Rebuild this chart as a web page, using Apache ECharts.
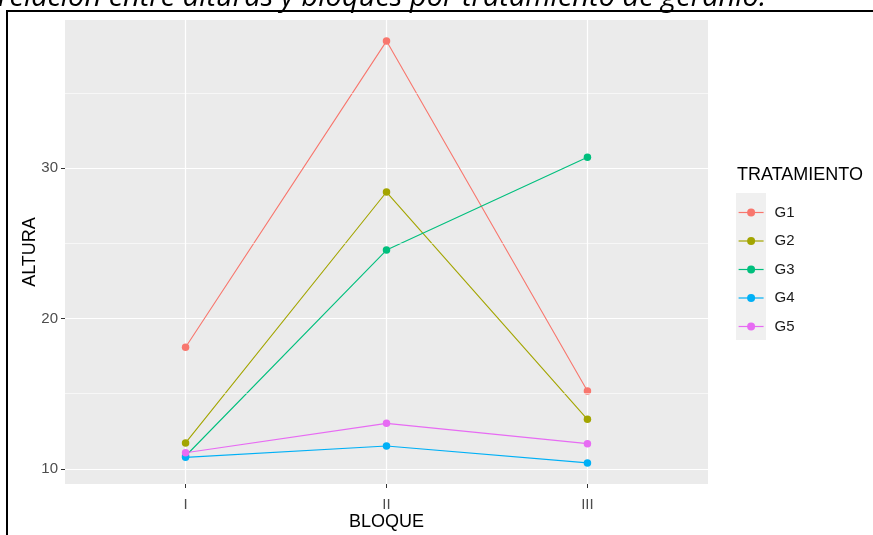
<!DOCTYPE html>
<html>
<head>
<meta charset="utf-8">
<script src="https://cdn.jsdelivr.net/npm/echarts@6/dist/echarts.min.js"></script>
<style>
  html, body { margin: 0; padding: 0; background: #ffffff; }
  #chart { width: 873px; height: 535px; }
</style>
</head>
<body>
<div id="chart"></div>
<script>
// Block labels (discrete x positions 1, 2, 3)
const bloques = ['I', 'II', 'III'];
const bloquePos = [1, 2, 3];

// Height per treatment, one value per block
const tratamientos = ['G1', 'G2', 'G3', 'G4', 'G5'];
const alturaG1 = [18.08, 38.45, 15.17];
const alturaG2 = [11.72, 28.41, 13.29];
const alturaG3 = [10.85, 24.55, 30.73];
const alturaG4 = [10.76, 11.51, 10.39];
const alturaG5 = [11.07, 13.02, 11.67];

// Y tick labels and minor grid positions
const yTicks = [10, 20, 30];
const yMinor = [15, 25, 35];

const colores = ['#F8766D', '#A3A500', '#00BF7D', '#00B0F6', '#E76BF3'];
const valores = [alturaG1, alturaG2, alturaG3, alturaG4, alturaG5];

// ggplot-style expansion of the continuous range (5% each side)
const all = valores.flat();
const yLo = Math.min(...all), yHi = Math.max(...all);
const yPad = (yHi - yLo) * 0.05;
// discrete axis expansion of 0.6 on each side
const xMin = bloquePos[0] - 0.6, xMax = bloquePos[bloquePos.length - 1] + 0.6;

const FONT = '"Liberation Sans", Arial, sans-serif';

const series = tratamientos.map((name, i) => ({
  name: name,
  type: 'line',
  data: bloquePos.map((x, j) => [x, valores[i][j]]),
  symbol: 'circle',
  symbolSize: 7.5,
  itemStyle: { color: colores[i] },
  lineStyle: { color: colores[i], width: 1.1 },
  emphasis: { disabled: true },
  animation: false,
  z: 3
}));

// minor horizontal grid lines
series.push({
  type: 'line',
  data: [],
  silent: true,
  markLine: {
    silent: true,
    symbol: 'none',
    label: { show: false },
    lineStyle: { color: '#ffffff', width: 0.6, type: 'solid' },
    data: yMinor.map(v => ({ yAxis: v }))
  },
  z: 1
});

const chart = echarts.init(document.getElementById('chart'), null, { renderer: 'canvas' });
chart.setOption({
  animation: false,
  backgroundColor: '#ffffff',
  grid: {
    left: 65, top: 20, width: 643, height: 464,
    outerBoundsMode: 'none',
    containLabel: false,
    show: true, backgroundColor: '#EBEBEB', borderWidth: 0
  },
  xAxis: {
    type: 'value',
    min: xMin, max: xMax,
    name: 'BLOQUE',
    nameLocation: 'middle',
    nameGap: 29,
    nameMoveOverlap: false,
    nameTextStyle: { fontFamily: FONT, fontSize: 18, color: '#000000' },
    axisLine: { show: false },
    axisTick: { show: true, customValues: bloquePos, length: 4, lineStyle: { color: '#333333', width: 1 } },
    axisLabel: {
      customValues: bloquePos,
      formatter: v => bloques[bloquePos.indexOf(Math.round(v))] || '',
      fontFamily: FONT, fontSize: 15, color: '#4D4D4D', margin: 13
    },
    splitLine: { show: true, lineStyle: { color: '#ffffff', width: 1.2 } }
  },
  yAxis: {
    type: 'value',
    min: yLo - yPad, max: yHi + yPad,
    name: 'ALTURA',
    nameLocation: 'middle',
    nameRotate: 90,
    nameGap: 26,
    nameMoveOverlap: false,
    nameTextStyle: { fontFamily: FONT, fontSize: 18, color: '#000000' },
    axisLine: { show: false },
    axisTick: { show: true, customValues: yTicks, length: 4, lineStyle: { color: '#333333', width: 1 } },
    axisLabel: {
      customValues: yTicks,
      fontFamily: FONT, fontSize: 15, color: '#4D4D4D', margin: 7
    },
    splitLine: { show: true, lineStyle: { color: '#ffffff', width: 1.2 } }
  },
  legend: {
    data: tratamientos,
    orient: 'vertical',
    left: 738,
    top: 205,
    padding: 0,
    itemWidth: 25,
    itemHeight: 10,
    itemGap: 13.5,
    selectedMode: false,
    lineStyle: { width: 1.2 },
    textStyle: { fontFamily: FONT, fontSize: 15, color: '#1A1A1A', padding: [0, 0, 0, 6] }
  },
  graphic: [
    {
      type: 'rect', z: -1,
      shape: { x: 736, y: 193, width: 30, height: 147 },
      style: { fill: '#F0F0F0' }
    },
    {
      type: 'text',
      x: 737, y: 175,
      style: {
        text: 'TRATAMIENTO', fontFamily: FONT, fontSize: 18,
        fill: '#000000', verticalAlign: 'middle'
      }
    },
    {
      type: 'text',
      x: -2, y: -2,
      style: {
        text: 'relación entre alturas y bloques por tratamiento de geranio.',
        fontFamily: '"Open Sans", sans-serif', fontStyle: 'italic', fontSize: 29,
        fill: '#000000', verticalAlign: 'middle'
      }
    },
    {
      type: 'polyline',
      shape: { points: [[7, 540], [7, 11], [880, 11]] },
      style: { stroke: '#000000', lineWidth: 2, fill: null }
    }
  ],
  series: series
});
</script>
</body>
</html>
